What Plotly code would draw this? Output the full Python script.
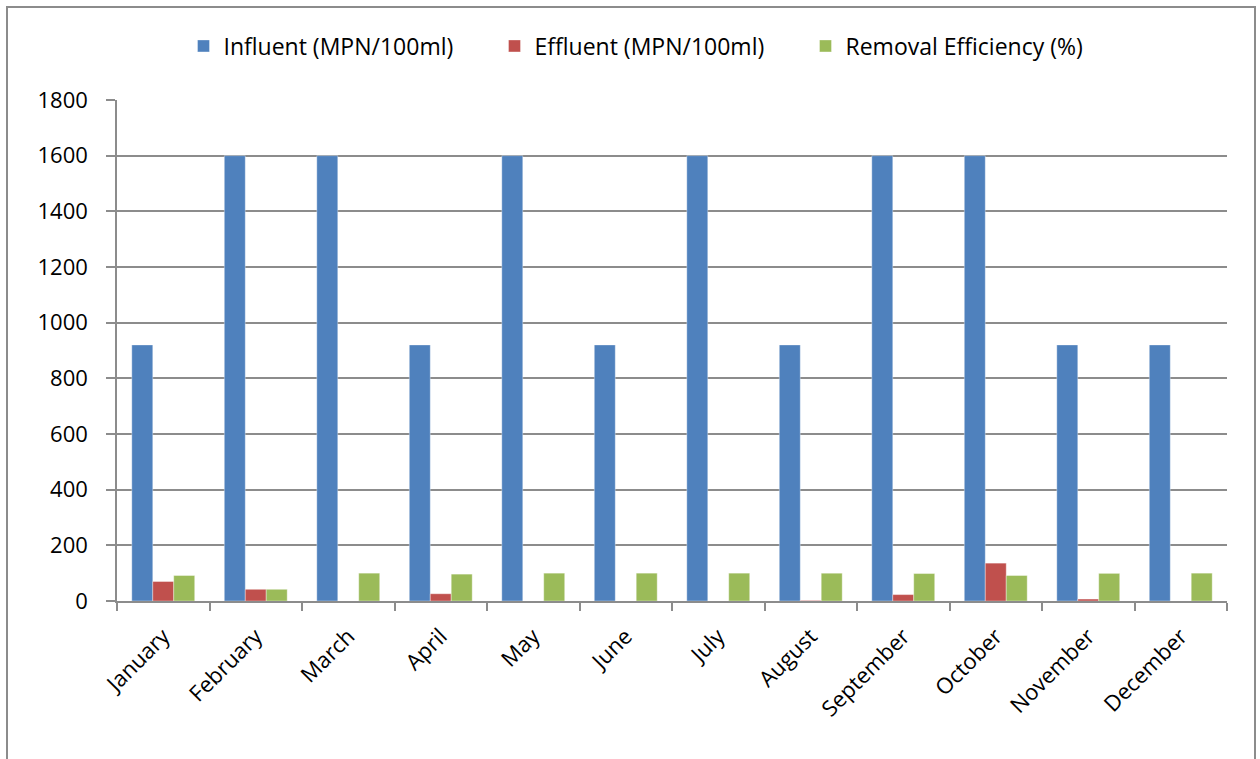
import plotly.graph_objects as go

months = ["January", "February", "March", "April", "May", "June", "July",
          "August", "September", "October", "November", "December"]
influent = [920, 1600, 1600, 920, 1600, 920, 1600, 920, 1600, 1600, 920, 920]
effluent = [70, 42, 0, 26, 0, 0, 0, 2, 23, 136, 7, 0]
removal = [91.5, 42, 100, 96.5, 100, 100, 100, 99.8, 98.6, 91.5, 99.2, 100]

series = [
    ("Influent (MPN/100ml)", influent, "#4F81BD"),
    ("Effluent (MPN/100ml)", effluent, "#C0504D"),
    ("Removal Efficiency (%)", removal, "#9BBB59"),
]

fig = go.Figure()
for name, vals, color in series:
    fig.add_trace(go.Bar(
        x=months, y=vals, name=name,
        marker=dict(color=color, line=dict(color="rgba(255,255,255,0.6)", width=0.6)),
    ))

grid = "#8C8C8C"
L, R, T, B = 117, 33, 100, 158
W, H = 1260, 759
pw, ph = W - L - R, H - T - B

fig.update_layout(
    width=W, height=H,
    margin=dict(l=L, r=R, t=T, b=B),
    paper_bgcolor="white", plot_bgcolor="white",
    font=dict(family="Open Sans", size=22, color="#000000"),
    barmode="group", bargap=0.32, bargroupgap=0,
    showlegend=True,
    legend=dict(orientation="h", x=(650 - L) / pw, xanchor="center", y=1 + 54 / ph, yanchor="middle",
                font=dict(size=23), entrywidth=266, entrywidthmode="pixels",
                traceorder="normal"),
    xaxis=dict(showline=True, linecolor=grid, linewidth=1.5, ticks="outside",
               tickson="boundaries", ticklen=8, tickcolor=grid, tickwidth=1.5,
               tickangle=-45, tickfont=dict(size=22), ticklabelstandoff=12),
    yaxis=dict(range=[0, 1800], dtick=200, showgrid=True, gridcolor=grid, gridwidth=1.5,
               showline=True, linecolor=grid, linewidth=1.5, ticks="outside",
               ticklen=9, tickcolor=grid, tickwidth=1.5, tickfont=dict(size=22),
               ticklabelstandoff=14, zeroline=False),
    shapes=[dict(type="rect", xref="paper", yref="paper",
                 x0=(7 - L) / pw, x1=(1255 - L) / pw,
                 y0=-(H - T + 20) / ph, y1=1 + (T - 7) / ph,
                 line=dict(color="#8C8C8C", width=2), fillcolor="rgba(0,0,0,0)", layer="below")],
)

fig.write_html("out.html")
